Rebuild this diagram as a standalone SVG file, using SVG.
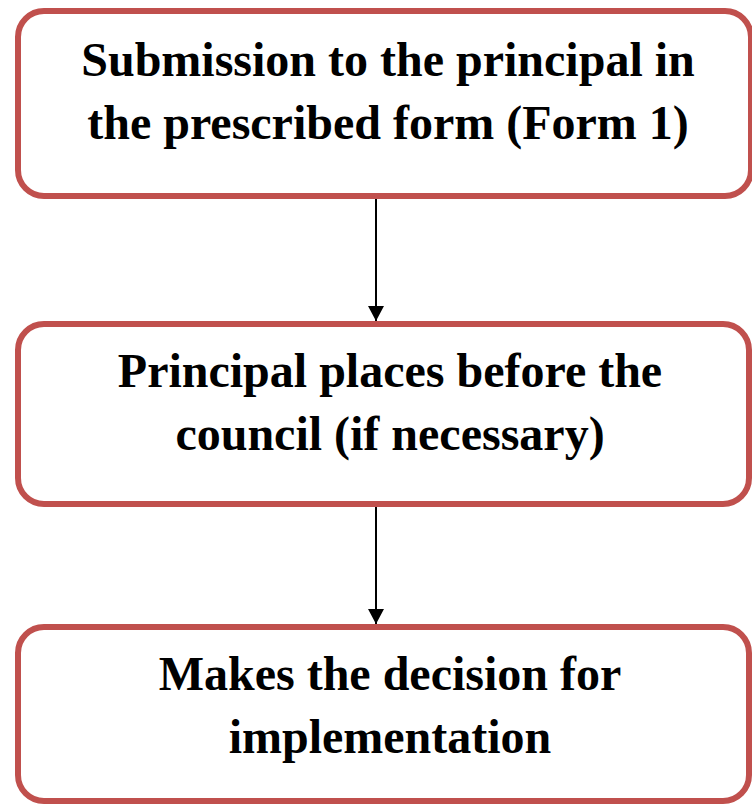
<svg xmlns="http://www.w3.org/2000/svg" width="752" height="804" viewBox="0 0 752 804">
  <style>
    .box { fill: #FFFFFF; stroke: #C0504D; stroke-width: 6; }
    .lbl { font-family: "Liberation Serif", "Times New Roman", serif; font-weight: bold; font-size: 48px; fill: #000000; text-anchor: middle; }
    .conn { stroke: #000000; stroke-width: 2; fill: none; }
  </style>
  <defs>
    <marker id="arrow" markerUnits="userSpaceOnUse" markerWidth="16" markerHeight="18" refX="15" refY="8" orient="auto">
      <path d="M0,0 L15,8 L0,16 Z" fill="#000000"/>
    </marker>
  </defs>
  <rect width="752" height="804" fill="#FFFFFF"/>
  <g id="connectors">
    <line class="conn" x1="376" y1="199" x2="376" y2="321" marker-end="url(#arrow)"/>
    <line class="conn" x1="376" y1="507" x2="376" y2="624" marker-end="url(#arrow)"/>
  </g>
  <g id="node1">
    <rect class="box" x="18" y="11" width="733" height="185" rx="26" ry="26"/>
    <text class="lbl" x="388" y="76">Submission to the principal in</text>
    <text class="lbl" x="388" y="139">the prescribed form (Form 1)</text>
  </g>
  <g id="node2">
    <rect class="box" x="18" y="324" width="731" height="180" rx="26" ry="26"/>
    <text class="lbl" x="390" y="387">Principal places before the</text>
    <text class="lbl" x="390" y="450">council (if necessary)</text>
  </g>
  <g id="node3">
    <rect class="box" x="18" y="627" width="731" height="174" rx="26" ry="26"/>
    <text class="lbl" x="390" y="690">Makes the decision for</text>
    <text class="lbl" x="390" y="753">implementation</text>
  </g>
</svg>
